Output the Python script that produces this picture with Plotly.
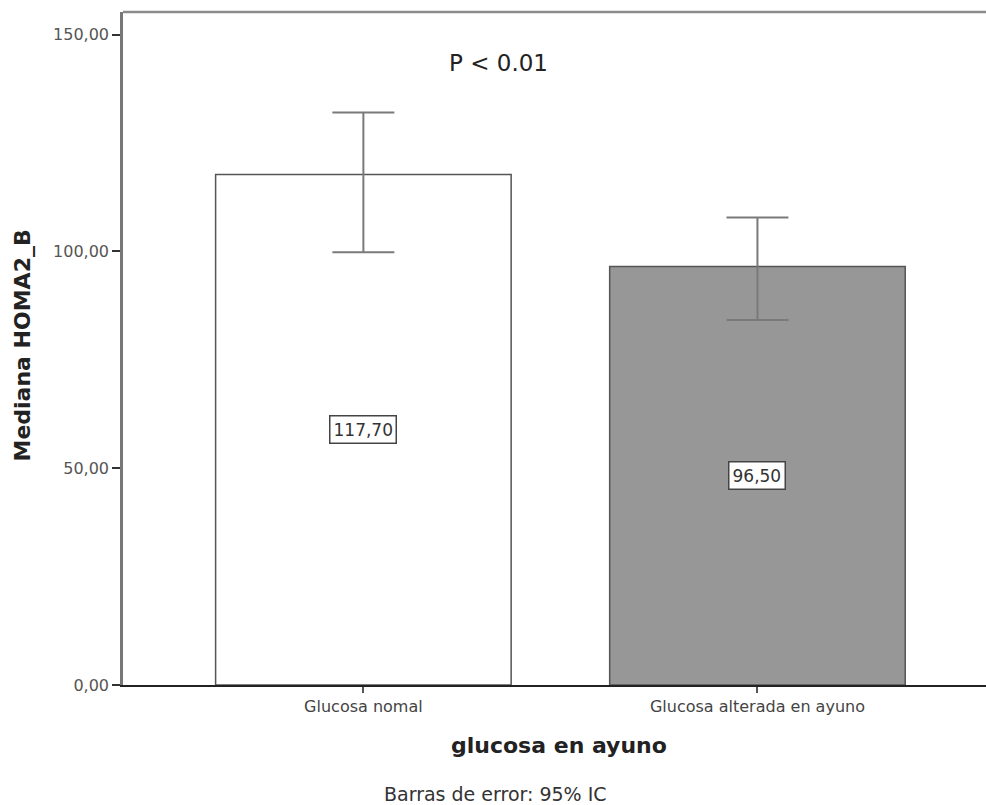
import plotly.graph_objects as go

categories = ["Glucosa nomal", "Glucosa alterada en ayuno"]
medians = [117.70, 96.50]
ci_upper = [132.0, 107.8]
ci_lower = [99.8, 84.2]
bar_colors = ["#ffffff", "#979797"]
label_text = ["117,70", "96,50"]
y_ticks = [0, 50, 100, 150]

err_plus = [u - m for u, m in zip(ci_upper, medians)]
err_minus = [m - l for m, l in zip(medians, ci_lower)]

FONT = "DejaVu Sans"

fig = go.Figure()
fig.add_trace(go.Bar(
    x=categories, y=medians, width=0.75,
    marker=dict(color=bar_colors, line=dict(color="#555555", width=1.5)),
    error_y=dict(type="data", array=err_plus, arrayminus=err_minus,
                 color="#7a7a7a", thickness=2, width=31),
    showlegend=False, hoverinfo="skip",
))

for c, m, t in zip(categories, medians, label_text):
    fig.add_annotation(x=c, y=m / 2, text=t, showarrow=False,
                       font=dict(family=FONT, size=17, color="#333333"),
                       bgcolor="white", bordercolor="#444444", borderwidth=1.5, borderpad=3)

fig.add_annotation(xref="paper", yref="paper", x=0.435, y=1.0, yshift=-51,
                   text="P < 0.01", showarrow=False, xanchor="center", yanchor="middle",
                   font=dict(family=FONT, size=23, color="#222222"))
fig.add_annotation(xref="paper", yref="paper", x=0.505, y=0, yshift=-60,
                   text="<b>glucosa en ayuno</b>", showarrow=False, xanchor="center", yanchor="middle",
                   font=dict(family=FONT, size=22, color="#222222"))
fig.add_annotation(xref="paper", yref="paper", x=0.432, y=0, yshift=-109,
                   text="Barras de error: 95% IC", showarrow=False, xanchor="center", yanchor="middle",
                   font=dict(family=FONT, size=19, color="#333333"))
fig.add_annotation(xref="paper", yref="paper", x=0, xshift=-101, y=0.5, yshift=3,
                   text="<b>Mediana HOMA2_B</b>", showarrow=False, textangle=-90,
                   xanchor="center", yanchor="middle",
                   font=dict(family=FONT, size=22, color="#222222"))

fig.add_shape(type="line", xref="paper", yref="paper", x0=0, x1=1, y0=1, y1=1,
              line=dict(color="#8a8a8a", width=2.5))

fig.update_layout(
    width=986, height=805,
    margin=dict(l=123, r=0, t=12, b=120),
    paper_bgcolor="white", plot_bgcolor="white",
    separators=",.",
    bargap=0.25,
    xaxis=dict(range=[-0.61, 1.58], showgrid=False, zeroline=False,
               showline=True, linecolor="#222222", linewidth=2,
               ticks="outside", ticklen=6, tickcolor="#555555", tickwidth=1.5,
               tickfont=dict(family=FONT, size=16, color="#444444")),
    yaxis=dict(range=[0, 155.2], showgrid=False, zeroline=False,
               showline=True, linecolor="#777777", linewidth=2.5,
               tickvals=y_ticks, tickformat=".2f",
               ticks="outside", ticklen=8, tickcolor="#333333", tickwidth=1.5,
               tickfont=dict(family=FONT, size=16, color="#555555")),
)

fig.write_html("out.html")
